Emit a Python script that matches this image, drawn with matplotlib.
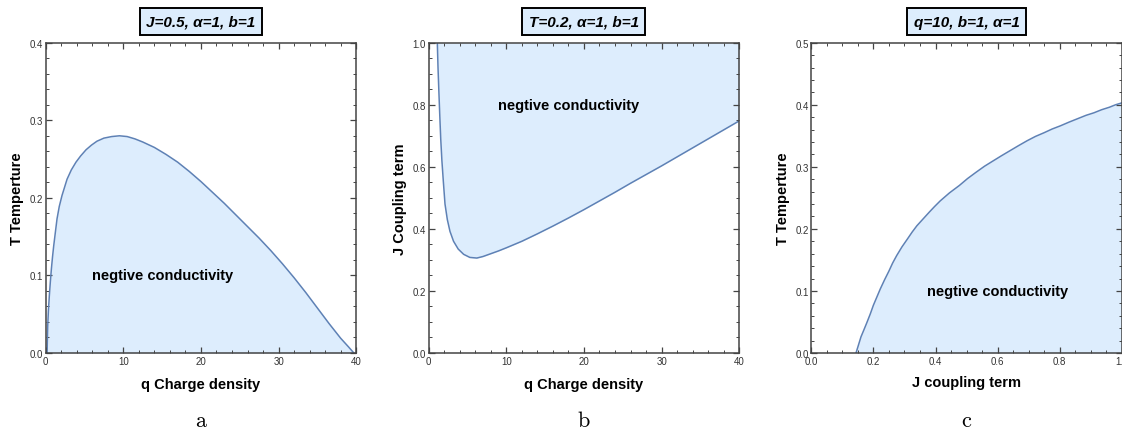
import numpy as np
import matplotlib.pyplot as plt
from matplotlib.ticker import MultipleLocator

plt.rcParams['font.family'] = ['Liberation Sans', 'DejaVu Sans']
plt.rcParams['mathtext.fontset'] = 'cm'

# 数据 (a): J=0.5 时 T 随 q 的边界
a_q = [0.18, 0.21, 0.26, 0.35, 0.47, 0.6, 0.73, 0.88, 1.03, 1.25, 1.46, 1.75,
       2.1, 2.75, 3.3, 3.9, 4.5, 5.2, 5.9, 6.6, 7.5, 8.5, 9.5, 10.5, 11.5,
       12.5, 14.0, 15.5, 17.0, 18.5, 20.0, 21.5, 23.0, 24.5, 26.0, 27.5, 29.0,
       30.5, 32.0, 33.5, 35.0, 36.5, 38.0, 39.0, 39.7]
a_T = [0.0, 0.015, 0.035, 0.055, 0.074, 0.092, 0.108, 0.124, 0.138, 0.156,
       0.173, 0.189, 0.203, 0.224, 0.236, 0.246, 0.254, 0.262, 0.268, 0.273,
       0.277, 0.279, 0.280, 0.279, 0.276, 0.272, 0.265, 0.256, 0.246, 0.234,
       0.221, 0.207, 0.193, 0.178, 0.163, 0.148, 0.132, 0.115, 0.097, 0.078,
       0.058, 0.038, 0.019, 0.008, 0.0]

# 数据 (b): T=0.2 时 J 随 q 的边界
b_q = [1.11, 1.2, 1.3, 1.42, 1.55, 1.7, 1.88, 2.1, 2.4, 2.74, 3.2, 3.8, 4.5,
       5.3, 6.2, 7.0, 8.0, 9.0, 10.0, 12.0, 14.0, 16.0, 18.0, 20.0, 22.0,
       24.0, 26.0, 28.0, 30.0, 32.0, 34.0, 36.0, 38.0, 40.0]
b_J = [1.0, 0.92, 0.85, 0.77, 0.69, 0.62, 0.555, 0.48, 0.43, 0.392, 0.36,
       0.335, 0.318, 0.308, 0.306, 0.311, 0.32, 0.329, 0.339, 0.36, 0.384,
       0.409, 0.435, 0.462, 0.49, 0.518, 0.547, 0.575, 0.603, 0.632, 0.661,
       0.69, 0.719, 0.748]

# 数据 (c): q=10 时 T 随 J 的边界
c_J = [0.144, 0.152, 0.16, 0.17, 0.179, 0.19, 0.2, 0.211, 0.222, 0.236, 0.25,
       0.262, 0.275, 0.292, 0.31, 0.325, 0.34, 0.36, 0.38, 0.397, 0.415,
       0.445, 0.477, 0.503, 0.53, 0.558, 0.587, 0.613, 0.64, 0.667, 0.695,
       0.722, 0.75, 0.776, 0.802, 0.83, 0.86, 0.885, 0.91, 0.935, 0.96, 0.98,
       1.0]
c_T = [0.0, 0.013, 0.026, 0.038, 0.049, 0.063, 0.077, 0.09, 0.103, 0.118,
       0.132, 0.145, 0.157, 0.171, 0.184, 0.195, 0.205, 0.216, 0.227, 0.236,
       0.245, 0.258, 0.27, 0.281, 0.291, 0.301, 0.31, 0.318, 0.326, 0.334,
       0.342, 0.349, 0.355, 0.361, 0.366, 0.372, 0.378, 0.383, 0.387, 0.392,
       0.396, 0.4, 0.403]

line_color = '#5e81b5'
fill_color = '#ddedfd'
frame_color = '#444444'

fig = plt.figure(figsize=(11.22, 4.31), dpi=100)

lefts = [45.7 / 1122, 428.7 / 1122, 811.3 / 1122]
bottom = (431 - 354) / 431
width = 310.5 / 1122
height = 310.3 / 431

axes = [fig.add_axes([l, bottom, width, height]) for l in lefts]


def style(ax, xmaj, xmin, ymaj, ymin):
    ax.xaxis.set_major_locator(MultipleLocator(xmaj))
    ax.xaxis.set_minor_locator(MultipleLocator(xmin))
    ax.yaxis.set_major_locator(MultipleLocator(ymaj))
    ax.yaxis.set_minor_locator(MultipleLocator(ymin))
    ax.tick_params(which='both', direction='in', top=True, right=True,
                   color=frame_color, labelsize=7, labelcolor='#333333', pad=2)
    ax.tick_params(which='major', length=4, width=0.9)
    ax.tick_params(which='minor', length=2.2, width=0.7)
    for s in ax.spines.values():
        s.set_color(frame_color)
        s.set_linewidth(1.1)


label_kw = dict(fontsize=10.5, fontweight='bold')
text_kw = dict(fontsize=10.5, fontweight='bold', ha='center', va='center')
title_kw = dict(fontsize=11, fontweight='bold', style='italic', ha='center',
                va='center', bbox=dict(boxstyle='square,pad=0.42', fc=fill_color,
                                       ec='black', lw=1.4))

# (a)
ax = axes[0]
ax.fill_between(a_q, a_T, 0, color=fill_color, lw=0)
ax.plot(a_q, a_T, color=line_color, lw=1.1)
ax.set_xlim(0, 40)
ax.set_ylim(0, 0.4)
style(ax, 10, 2, 0.1, 0.02)
ax.yaxis.set_major_formatter(plt.FormatStrFormatter('%.1f'))
ax.set_xlabel('q Charge density', labelpad=8, **label_kw)
ax.set_ylabel('T Temperture', labelpad=4, **label_kw)
ax.text(15, 0.1, 'negtive conductivity', **text_kw)
ax.text(0.5, 1.068, 'J=0.5, α=1, b=1', transform=ax.transAxes, **title_kw)

# (b)
ax = axes[1]
ax.fill_between(b_q, b_J, 1.0, color=fill_color, lw=0)
ax.plot(b_q, b_J, color=line_color, lw=1.1)
ax.set_xlim(0, 40)
ax.set_ylim(0, 1.0)
style(ax, 10, 2, 0.2, 0.05)
ax.yaxis.set_major_formatter(plt.FormatStrFormatter('%.1f'))
ax.set_xlabel('q Charge density', labelpad=8, **label_kw)
ax.set_ylabel('J Coupling term', labelpad=4, **label_kw)
ax.text(18, 0.8, 'negtive conductivity', **text_kw)
ax.text(0.5, 1.068, 'T=0.2, α=1, b=1', transform=ax.transAxes, **title_kw)

# (c)
ax = axes[2]
ax.fill_between(c_J, c_T, 0, color=fill_color, lw=0)
ax.plot(c_J, c_T, color=line_color, lw=1.1)
ax.set_xlim(0, 1.0)
ax.set_ylim(0, 0.5)
style(ax, 0.2, 0.05, 0.1, 0.02)
ax.xaxis.set_major_formatter(plt.FormatStrFormatter('%.1f'))
ax.yaxis.set_major_formatter(plt.FormatStrFormatter('%.1f'))
ax.set_xlabel('J coupling term', labelpad=7, **label_kw)
ax.set_ylabel('T Temperture', labelpad=4, **label_kw)
ax.text(0.6, 0.1, 'negtive conductivity', **text_kw)
ax.text(0.5, 1.068, 'q=10, b=1, α=1', transform=ax.transAxes, **title_kw)

for ax, tag in zip(axes, ['a', 'b', 'c']):
    pos = ax.get_position()
    fig.text((pos.x0 + pos.x1) / 2, 1 - 427 / 431, r'$\mathrm{' + tag + '}$',
             fontsize=16, ha='center', va='baseline')

fig.savefig('out.png', dpi=100)
